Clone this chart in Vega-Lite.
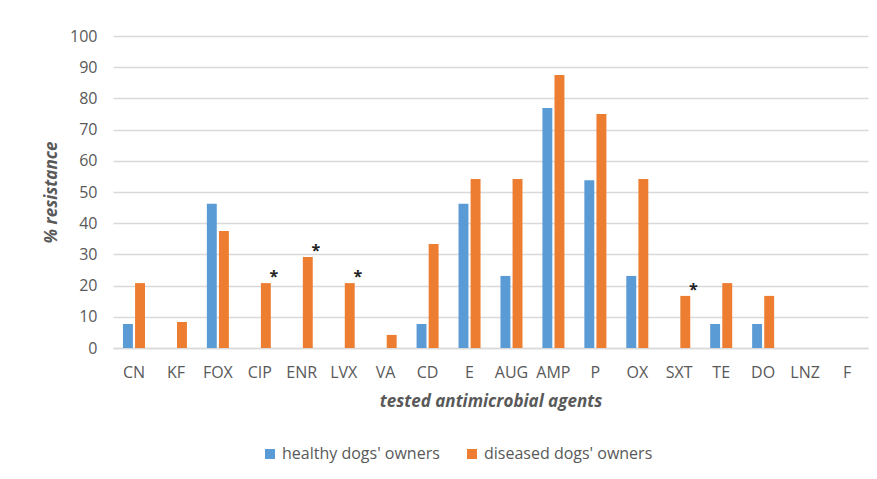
{
  "$schema": "https://vega.github.io/schema/vega-lite/v6.json",
  "width": 755,
  "height": 312,
  "autosize": {"type": "none"},
  "padding": {"left": 113, "top": 36, "right": 9, "bottom": 131},
  "background": "white",
  "config": {
    "view": {"stroke": null},
    "font": "Open Sans",
    "axis": {"labelFont": "Open Sans", "titleFont": "Open Sans", "labelColor": "#595959", "titleColor": "#595959"}
  },
  "data": {
    "values": [
      {"agent": "CN", "group": "healthy dogs' owners", "value": 7.7, "sig": false},
      {"agent": "CN", "group": "diseased dogs' owners", "value": 20.8, "sig": false},
      {"agent": "KF", "group": "healthy dogs' owners", "value": 0, "sig": false},
      {"agent": "KF", "group": "diseased dogs' owners", "value": 8.3, "sig": false},
      {"agent": "FOX", "group": "healthy dogs' owners", "value": 46.2, "sig": false},
      {"agent": "FOX", "group": "diseased dogs' owners", "value": 37.5, "sig": false},
      {"agent": "CIP", "group": "healthy dogs' owners", "value": 0, "sig": false},
      {"agent": "CIP", "group": "diseased dogs' owners", "value": 20.8, "sig": true},
      {"agent": "ENR", "group": "healthy dogs' owners", "value": 0, "sig": false},
      {"agent": "ENR", "group": "diseased dogs' owners", "value": 29.2, "sig": true},
      {"agent": "LVX", "group": "healthy dogs' owners", "value": 0, "sig": false},
      {"agent": "LVX", "group": "diseased dogs' owners", "value": 20.8, "sig": true},
      {"agent": "VA", "group": "healthy dogs' owners", "value": 0, "sig": false},
      {"agent": "VA", "group": "diseased dogs' owners", "value": 4.2, "sig": false},
      {"agent": "CD", "group": "healthy dogs' owners", "value": 7.7, "sig": false},
      {"agent": "CD", "group": "diseased dogs' owners", "value": 33.3, "sig": false},
      {"agent": "E", "group": "healthy dogs' owners", "value": 46.2, "sig": false},
      {"agent": "E", "group": "diseased dogs' owners", "value": 54.2, "sig": false},
      {"agent": "AUG", "group": "healthy dogs' owners", "value": 23.1, "sig": false},
      {"agent": "AUG", "group": "diseased dogs' owners", "value": 54.2, "sig": false},
      {"agent": "AMP", "group": "healthy dogs' owners", "value": 76.9, "sig": false},
      {"agent": "AMP", "group": "diseased dogs' owners", "value": 87.5, "sig": false},
      {"agent": "P", "group": "healthy dogs' owners", "value": 53.8, "sig": false},
      {"agent": "P", "group": "diseased dogs' owners", "value": 75.0, "sig": false},
      {"agent": "OX", "group": "healthy dogs' owners", "value": 23.1, "sig": false},
      {"agent": "OX", "group": "diseased dogs' owners", "value": 54.2, "sig": false},
      {"agent": "SXT", "group": "healthy dogs' owners", "value": 0, "sig": false},
      {"agent": "SXT", "group": "diseased dogs' owners", "value": 16.7, "sig": true},
      {"agent": "TE", "group": "healthy dogs' owners", "value": 7.7, "sig": false},
      {"agent": "TE", "group": "diseased dogs' owners", "value": 20.8, "sig": false},
      {"agent": "DO", "group": "healthy dogs' owners", "value": 7.7, "sig": false},
      {"agent": "DO", "group": "diseased dogs' owners", "value": 16.7, "sig": false},
      {"agent": "LNZ", "group": "healthy dogs' owners", "value": 0, "sig": false},
      {"agent": "LNZ", "group": "diseased dogs' owners", "value": 0, "sig": false},
      {"agent": "F", "group": "healthy dogs' owners", "value": 0, "sig": false},
      {"agent": "F", "group": "diseased dogs' owners", "value": 0, "sig": false}
    ]
  },
  "encoding": {
    "x": {
      "field": "agent", "type": "nominal", "sort": null,
      "scale": {"paddingInner": 0.475, "paddingOuter": 0.2375},
      "axis": {
        "title": "tested antimicrobial agents", "labelAngle": 0, "labelFontSize": 16,
        "labelPadding": 16, "ticks": false, "domainColor": "#d9d9d9", "domainWidth": 1.5,
        "titleFontSize": 17, "titleFontWeight": "bold", "titleFontStyle": "italic", "titlePadding": 13
      }
    },
    "xOffset": {
      "field": "group", "type": "nominal", "sort": ["healthy dogs' owners", "diseased dogs' owners"],
      "scale": {"paddingInner": 0.18, "paddingOuter": 0}
    },
    "y": {
      "field": "value", "type": "quantitative",
      "scale": {"domain": [0, 100]},
      "axis": {
        "title": "% resistance", "values": [0,10,20,30,40,50,60,70,80,90,100], "labelFontSize": 16,
        "labelPadding": 16, "ticks": false, "domain": false, "gridColor": "#d9d9d9", "gridWidth": 1.5,
        "titleFontSize": 17, "titleFontWeight": "bold", "titleFontStyle": "italic", "titlePadding": 9
      }
    }
  },
  "layer": [
    {
      "mark": {"type": "bar"},
      "encoding": {
        "color": {
          "field": "group", "type": "nominal", "sort": ["healthy dogs' owners", "diseased dogs' owners"],
          "scale": {"range": ["#5B9BD5", "#ED7D31"]},
          "legend": {
            "title": null, "orient": "none", "direction": "horizontal", "legendX": 149, "legendY": 410,
            "symbolType": "square", "symbolSize": 100, "symbolStrokeWidth": 0, "labelFontSize": 16, "labelColor": "#595959",
            "labelFont": "Open Sans", "labelLimit": 400, "columnPadding": 24, "labelOffset": 4
          }
        }
      }
    },
    {
      "transform": [{"filter": "datum.sig"}],
      "mark": {"type": "text", "text": "*", "fontSize": 16, "fontWeight": "bold", "dx": 8, "dy": -6, "baseline": "middle", "color": "#222222"}
    }
  ]
}
